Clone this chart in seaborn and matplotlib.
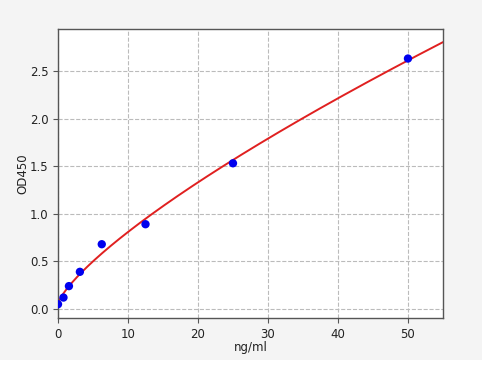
import numpy as np
import matplotlib
matplotlib.use("Agg")
import matplotlib.pyplot as plt
import seaborn as sns
import pandas as pd
from matplotlib.patches import Rectangle

conc = [0, 0.78, 1.56, 3.125, 6.25, 12.5, 25, 50]
od = [0.05, 0.12, 0.24, 0.39, 0.68, 0.89, 1.53, 2.63]
xticks = [0, 10, 20, 30, 40, 50]
yticks = [0.0, 0.5, 1.0, 1.5, 2.0, 2.5]

sns.set_style("white")
plt.rcParams['font.family'] = ['DejaVu Sans']

fig = plt.figure(figsize=(4.9, 3.7), dpi=100, facecolor="white")
fig.patches.append(Rectangle((0, 0.027), 0.984, 0.973, transform=fig.transFigure,
                             facecolor="#f4f4f4", edgecolor="none", zorder=-10))
ax = fig.add_axes([0.1184, 0.1405, 0.7856, 0.7811])
ax.set_facecolor("white")

# power-law fit y = a + b*x^c from the data
x = np.array(conc, float)
y = np.array(od, float)
best = None
for c in np.linspace(0.3, 1.2, 901):
    A = np.vstack([np.ones_like(x), x ** c]).T
    coef, res, *_ = np.linalg.lstsq(A, y, rcond=None)
    err = np.sum((A @ coef - y) ** 2)
    if best is None or err < best[0]:
        best = (err, coef, c)
_, (a, b), c = best
xf = np.linspace(0, 55, 400)
yf = a + b * xf ** c

sns.lineplot(x=xf, y=yf, ax=ax, color="#e02020", linewidth=1.4, zorder=2)
sns.scatterplot(x=conc, y=od, ax=ax, color="#0000ee", s=36, edgecolor="none", zorder=3)

ax.set_xlim(0, 55)
ax.set_ylim(-0.095, 2.94)
ax.set_xticks(xticks)
ax.set_yticks(yticks)
ax.set_yticklabels([f"{v:.1f}" for v in yticks])
ax.grid(True, linestyle="--", color="#bbbbbb", linewidth=0.8)
ax.set_axisbelow(True)
for s in ax.spines.values():
    s.set_color("#555555")
    s.set_linewidth(1.0)
ax.tick_params(axis="both", which="both", length=3.5, width=0.8, color="#555555",
               labelsize=8.5, labelcolor="#222222", bottom=True, left=True, direction="out")
ax.set_xlabel("ng/ml", fontsize=8.5, color="#222222", labelpad=0)
ax.set_ylabel("OD450", fontsize=8.5, color="#222222", labelpad=0)

fig.savefig("out.png", dpi=100, facecolor=fig.get_facecolor())
